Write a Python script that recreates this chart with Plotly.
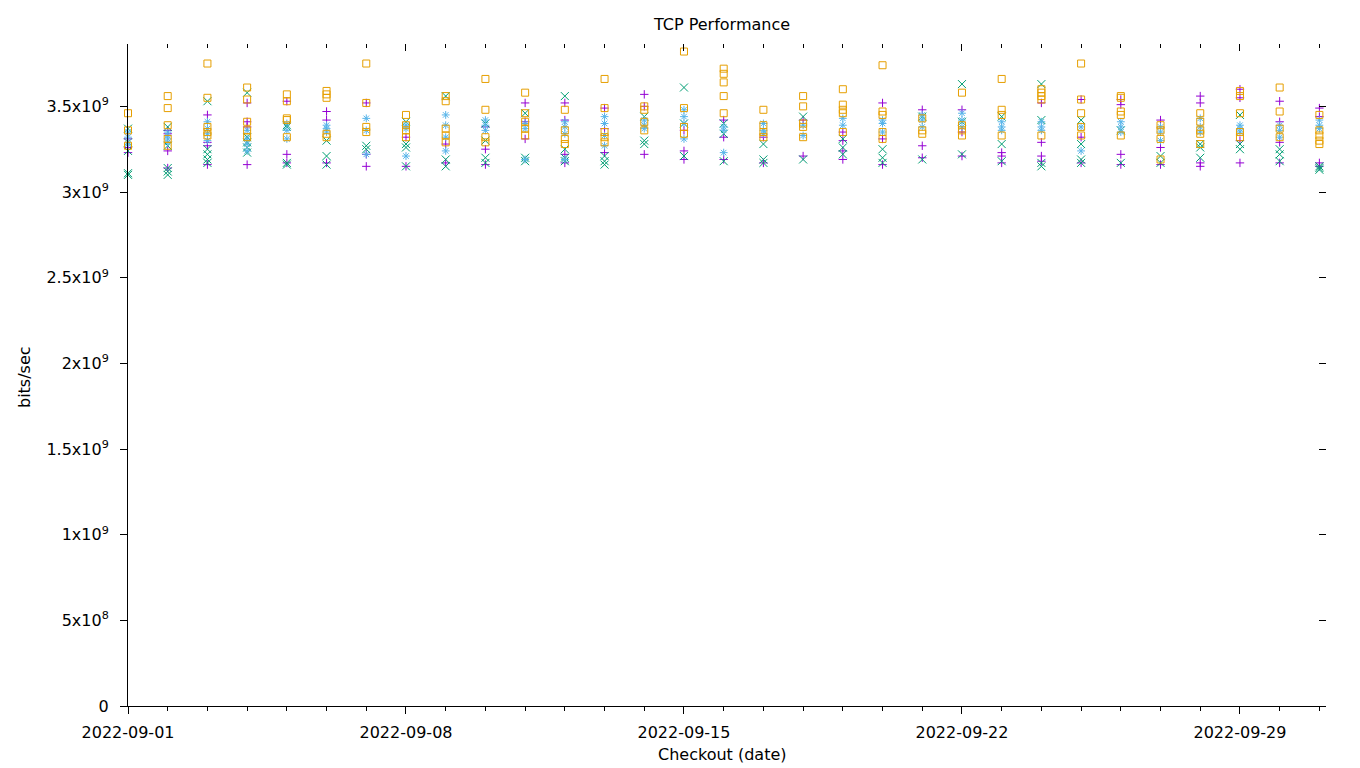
import datetime as dt
import plotly.graph_objects as go

# ---------------- data (values in 1e9 bits/sec, one list per day) ----------------
start_date = "2022-09-01"
n_days = 31
GBIT = 1e9

purple_plus = [
    [3.31, 3.26, 3.23], [3.36, 3.34, 3.24, 3.14], [3.45, 3.29, 3.27, 3.16],
    [3.52, 3.41, 3.38, 3.16], [3.53, 3.22, 3.17], [3.47, 3.42, 3.17],
    [3.52, 3.22, 3.15], [3.32, 3.15], [3.28, 3.17], [3.38, 3.25, 3.16],
    [3.52, 3.41, 3.31], [3.52, 3.42, 3.22, 3.17], [3.49, 3.37, 3.23],
    [3.57, 3.50, 3.22], [3.36, 3.24, 3.19], [3.42, 3.32, 3.19], [3.32, 3.17],
    [3.42, 3.21], [3.35, 3.30, 3.24, 3.19], [3.52, 3.31, 3.16],
    [3.48, 3.27, 3.20], [3.48, 3.35, 3.21], [3.23, 3.21, 3.17],
    [3.52, 3.29, 3.21, 3.18], [3.54, 3.32, 3.17], [3.54, 3.51, 3.22, 3.16],
    [3.42, 3.26, 3.16], [3.56, 3.52, 3.17, 3.15], [3.60, 3.55, 3.30, 3.17],
    [3.53, 3.41, 3.29, 3.17], [3.49, 3.44, 3.17, 3.15],
]
green_x = [
    [3.37, 3.29, 3.24, 3.10, 3.11], [3.38, 3.27, 3.14, 3.12, 3.10],
    [3.53, 3.25, 3.22, 3.19, 3.17], [3.58, 3.32, 3.29, 3.26, 3.23],
    [3.39, 3.38, 3.16, 3.17], [3.30, 3.21, 3.16], [3.27, 3.25],
    [3.41, 3.28, 3.26, 3.15], [3.56, 3.19, 3.15], [3.40, 3.30, 3.20, 3.17],
    [3.46, 3.20, 3.18], [3.56, 3.25, 3.20, 3.18], [3.21, 3.18, 3.16],
    [3.44, 3.30, 3.28], [3.61, 3.40, 3.21], [3.40, 3.34, 3.18],
    [3.28, 3.19, 3.17], [3.44, 3.19], [3.31, 3.26, 3.22], [3.25, 3.20, 3.17],
    [3.44, 3.19], [3.63, 3.41, 3.22], [3.44, 3.28, 3.18],
    [3.63, 3.42, 3.17, 3.15], [3.42, 3.28, 3.19, 3.17], [3.36, 3.17],
    [3.21, 3.17], [3.28, 3.26, 3.20], [3.45, 3.28, 3.25], [3.25, 3.22, 3.18],
    [3.15, 3.13, 3.14],
]
blue_star = [
    [3.35, 3.32, 3.28], [3.35, 3.33, 3.31, 3.29], [3.41, 3.37, 3.34, 3.30],
    [3.36, 3.31, 3.28, 3.24], [3.40, 3.36, 3.31], [3.39, 3.37, 3.35],
    [3.43, 3.36, 3.22], [3.39, 3.37, 3.21], [3.45, 3.39, 3.32, 3.24],
    [3.42, 3.39, 3.36], [3.40, 3.37, 3.19], [3.41, 3.38, 3.34, 3.19],
    [3.44, 3.40, 3.33, 3.27], [3.42, 3.39, 3.37], [3.48, 3.44, 3.40, 3.31],
    [3.38, 3.36, 3.23], [3.40, 3.36, 3.34], [3.39, 3.33], [3.43, 3.39],
    [3.42, 3.40, 3.35], [3.45, 3.42, 3.38], [3.46, 3.42, 3.38],
    [3.41, 3.38, 3.36], [3.41, 3.38, 3.36], [3.38, 3.24], [3.41, 3.38, 3.35],
    [3.38, 3.35, 3.30], [3.43, 3.38, 3.35], [3.39, 3.37, 3.35],
    [3.39, 3.36, 3.32], [3.42, 3.39, 3.37],
]
orange_square = [
    [3.46, 3.36, 3.27], [3.56, 3.49, 3.39, 3.31, 3.27],
    [3.75, 3.55, 3.38, 3.35, 3.33], [3.61, 3.54, 3.41, 3.36, 3.32],
    [3.57, 3.53, 3.43, 3.42, 3.32], [3.59, 3.57, 3.55, 3.34, 3.32],
    [3.75, 3.52, 3.38, 3.35], [3.45, 3.39, 3.36, 3.32],
    [3.56, 3.53, 3.37, 3.33, 3.29], [3.66, 3.48, 3.32, 3.29],
    [3.58, 3.46, 3.41, 3.37, 3.33], [3.48, 3.36, 3.31, 3.28],
    [3.66, 3.49, 3.35, 3.32, 3.29], [3.50, 3.48, 3.41, 3.36],
    [3.82, 3.49, 3.38, 3.34], [3.72, 3.69, 3.64, 3.56, 3.46],
    [3.48, 3.39, 3.35, 3.32], [3.56, 3.50, 3.40, 3.38, 3.32],
    [3.60, 3.51, 3.48, 3.46, 3.35], [3.74, 3.47, 3.45, 3.35, 3.31],
    [3.43, 3.36, 3.34], [3.58, 3.39, 3.36, 3.33], [3.66, 3.48, 3.45, 3.33],
    [3.60, 3.58, 3.56, 3.54, 3.33], [3.75, 3.54, 3.46, 3.38, 3.33],
    [3.56, 3.55, 3.47, 3.45, 3.33], [3.39, 3.36, 3.31, 3.19],
    [3.46, 3.41, 3.36, 3.34, 3.28], [3.59, 3.56, 3.46, 3.35, 3.32],
    [3.61, 3.47, 3.37, 3.32], [3.45, 3.36, 3.33, 3.30, 3.28],
]

y_tick_vals = [0, 5e8, 1e9, 1.5e9, 2e9, 2.5e9, 3e9, 3.5e9]
y_tick_text = ["0", "5x10<sup>8</sup>", "1x10<sup>9</sup>", "1.5x10<sup>9</sup>",
               "2x10<sup>9</sup>", "2.5x10<sup>9</sup>", "3x10<sup>9</sup>",
               "3.5x10<sup>9</sup>"]
x_tick_labels = ["2022-09-01", "2022-09-08", "2022-09-15", "2022-09-22", "2022-09-29"]

# ---------------- figure ----------------
d0 = dt.datetime.fromisoformat(start_date)
days = [d0 + dt.timedelta(days=i) for i in range(n_days)]


def flatten(series):
    xs, ys = [], []
    for day, vals in zip(days, series):
        for v in vals:
            xs.append(day)
            ys.append(v * GBIT)
    return xs, ys


series_specs = [
    (purple_plus, "#9400d3", "cross-thin-open", 6),
    (green_x, "#009e73", "x-thin-open", 8),
    (blue_star, "#56b4e9", "asterisk-open", 6.5),
    (orange_square, "#e69f00", "square-open", 7),
]

fig = go.Figure()
for data, color, symbol, size in series_specs:
    xs, ys = flatten(data)
    fig.add_trace(go.Scatter(
        x=xs, y=ys, mode="markers", showlegend=False, hoverinfo="skip",
        cliponaxis=False,
        marker=dict(symbol=symbol, size=size, color=color,
                    line=dict(color=color, width=1)),
    ))

# empty trace so the mirrored (top/right) tick axes are drawn
fig.add_trace(go.Scatter(x=[], y=[], xaxis="x2", yaxis="y2", showlegend=False))

x_range = [d0, d0 + dt.timedelta(days=30, hours=4)]
y_range = [0, 3.864e9]
DAY_MS = 86400000
font = dict(family="DejaVu Sans", size=16, color="black")
x_major = [d0 + dt.timedelta(days=7 * i) for i in range(len(x_tick_labels))]

fig.update_layout(
    width=1360, height=768,
    margin=dict(l=128, r=34, t=44, b=62),
    paper_bgcolor="white", plot_bgcolor="white",
    font=font,
    title=dict(text="TCP Performance", x=722 / 1360, xref="container",
               xanchor="center",
               y=1 - 24 / 768, yref="container", yanchor="middle",
               font=dict(family="DejaVu Sans", size=16, color="black")),
    xaxis=dict(
        type="date", range=x_range, showgrid=False, zeroline=False,
        showline=True, linecolor="black", linewidth=1,
        ticks="outside", ticklen=7, tickcolor="black", tickwidth=1,
        tickvals=x_major, ticktext=x_tick_labels, ticklabelstandoff=5,
        minor=dict(ticks="outside", ticklen=4, tickcolor="black",
                   dtick=DAY_MS, tick0=start_date, showgrid=False),
        tickfont=font,
    ),
    yaxis=dict(
        range=y_range, showgrid=False, zeroline=False,
        showline=True, linecolor="black", linewidth=1,
        ticks="outside", ticklen=7, tickcolor="black", tickwidth=1,
        tickvals=y_tick_vals, ticktext=y_tick_text, tickfont=font,
        ticklabelstandoff=8, ticklabelposition="outside",
    ),
    xaxis2=dict(
        type="date", range=x_range, overlaying="x", side="top",
        showgrid=False, zeroline=False, showline=False,
        ticks="inside", ticklen=7, tickcolor="black", tickwidth=1,
        tickvals=x_major, showticklabels=False,
        minor=dict(ticks="inside", ticklen=4, tickcolor="black",
                   dtick=DAY_MS, tick0=start_date, showgrid=False),
    ),
    yaxis2=dict(
        range=y_range, overlaying="y", side="right",
        showgrid=False, zeroline=False, showline=False,
        ticks="inside", ticklen=7, tickcolor="black", tickwidth=1,
        tickvals=y_tick_vals, showticklabels=False,
    ),
)

plot_w = 1360 - 128 - 34
plot_h = 768 - 44 - 62
fig.add_annotation(text="Checkout (date)", x=(722 - 128) / plot_w,
                   y=(706 - 755) / plot_h, xref="paper", yref="paper",
                   xanchor="center", yanchor="middle", showarrow=False, font=font)
fig.add_annotation(text="bits/sec", x=(24 - 128) / plot_w, y=(706 - 377) / plot_h,
                   textangle=-90, xref="paper", yref="paper",
                   xanchor="center", yanchor="middle", showarrow=False, font=font)

fig.write_html("out.html")
